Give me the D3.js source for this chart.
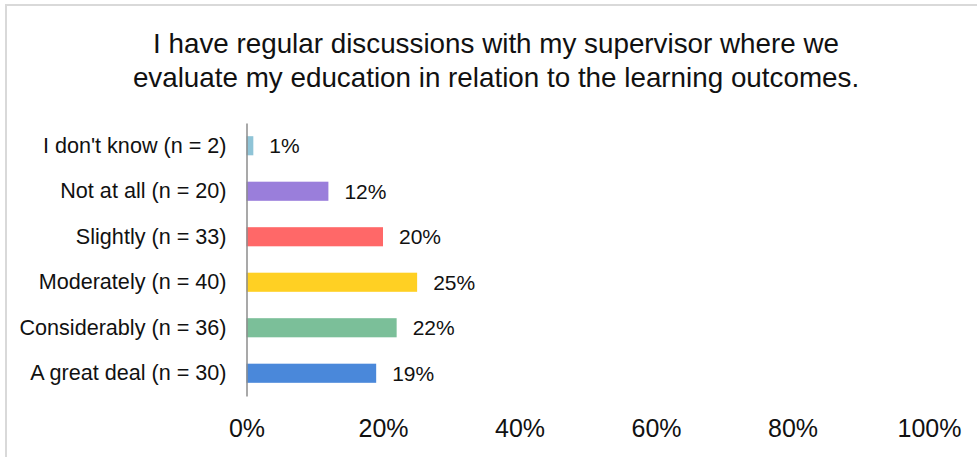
<!DOCTYPE html>
<html lang="en">
<head>
<meta charset="UTF-8">
<script src="https://d3js.org/d3.v7.min.js"></script>
<style>
  body { margin: 0; background: #fff; font-family: Arial, "Liberation Sans", sans-serif; }
  svg { display: block; }
</style>
</head>
<body>
<script>
  // data, top to bottom
  const categories = ['I don\'t know (n = 2)', 'Not at all (n = 20)', 'Slightly (n = 33)',
    'Moderately (n = 40)', 'Considerably (n = 36)', 'A great deal (n = 30)'];
  const values = [1, 12, 20, 25, 22, 19];
  const colors = ['#8fc4d7', '#9a7edb', '#ff6868', '#ffd023', '#7bbf99', '#4a88da'];
  const xTicks = [0, 20, 40, 60, 80, 100];
  const titleLines = ['I have regular discussions with my supervisor where we',
    'evaluate my education in relation to the learning outcomes.'];

  const W = 977, H = 457;
  const svg = d3.select('body').append('svg').attr('width', W).attr('height', H);

  // chart frame (cropped on right and bottom)
  svg.append('rect')
    .attr('x', 6).attr('y', 5).attr('width', 985).attr('height', 470)
    .attr('fill', 'none').attr('stroke', '#d9d9d9').attr('stroke-width', 2);

  // title
  svg.append('text')
    .attr('text-anchor', 'middle')
    .attr('font-size', 27.8)
    .attr('fill', '#111')
    .selectAll('tspan').data(titleLines).join('tspan')
    .attr('x', 496)
    .attr('y', (d, i) => 52.5 + i * 34)
    .text(d => d);

  const x = d3.scaleLinear().domain([0, 100]).range([246.5, 929]);
  const y = d3.scaleBand().domain(categories).range([123, 396])
    .paddingInner(0.58).paddingOuter(0.29);

  // bars
  svg.selectAll('rect.bar').data(values).join('rect')
    .attr('class', 'bar')
    .attr('x', x(0))
    .attr('y', (d, i) => y(categories[i]))
    .attr('width', d => x(d) - x(0))
    .attr('height', y.bandwidth())
    .attr('fill', (d, i) => colors[i]);

  // value labels
  svg.selectAll('text.val').data(values).join('text')
    .attr('class', 'val')
    .attr('x', d => x(d) + 16)
    .attr('y', (d, i) => y(categories[i]) + y.bandwidth() / 2)
    .attr('dy', '0.35em')
    .attr('font-size', 21)
    .attr('fill', '#111')
    .text(d => d + '%');

  // category axis
  const yAxis = svg.append('g')
    .attr('transform', `translate(${x(0)},0)`)
    .call(d3.axisLeft(y).tickSize(0).tickPadding(20));
  yAxis.select('.domain').attr('stroke', '#8c8c8c').attr('stroke-width', 1.5);
  yAxis.selectAll('text').attr('font-size', 21.6).attr('fill', '#111')
    .attr('font-family', 'Arial, "Liberation Sans", sans-serif');

  // percent axis (labels only)
  const xAxis = svg.append('g')
    .attr('transform', 'translate(0,396)')
    .call(d3.axisBottom(x).tickValues(xTicks).tickFormat(d => d + '%').tickSize(0).tickPadding(23));
  xAxis.select('.domain').remove();
  xAxis.selectAll('text').attr('font-size', 25).attr('fill', '#111')
    .attr('font-family', 'Arial, "Liberation Sans", sans-serif');
</script>
</body>
</html>
